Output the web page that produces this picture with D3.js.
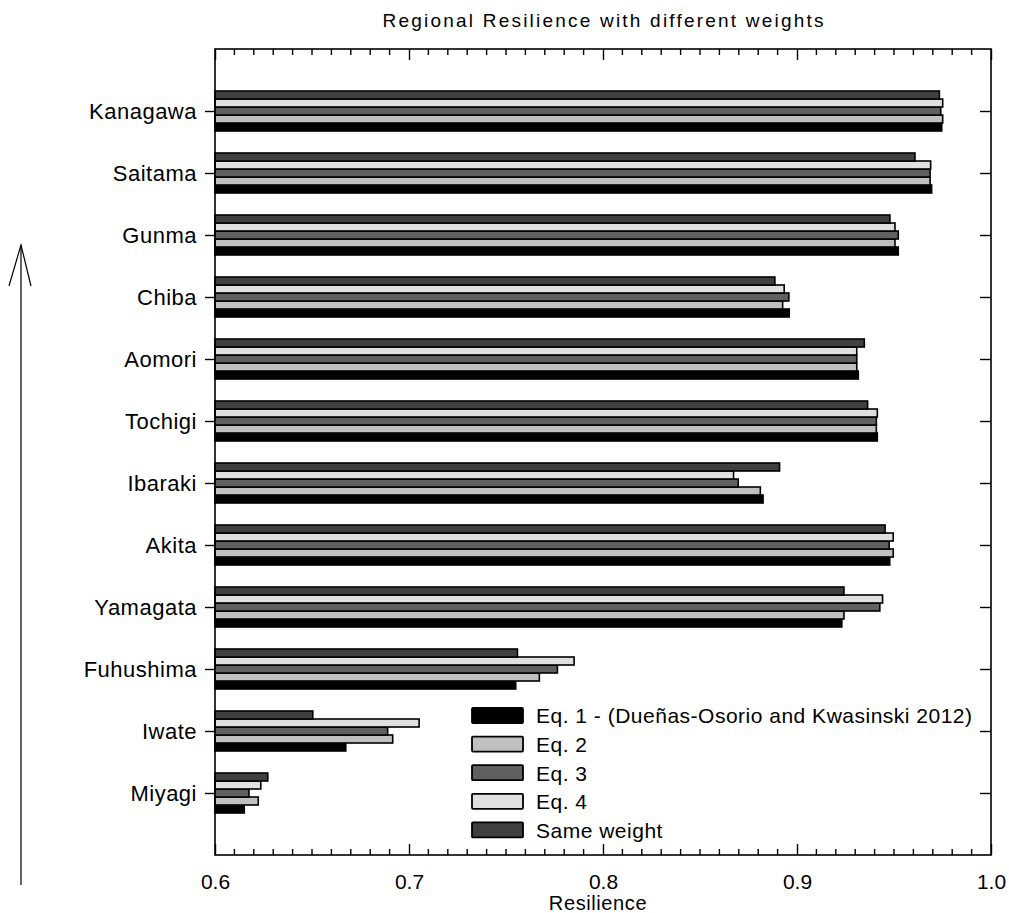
<!DOCTYPE html>
<html><head><meta charset="utf-8">
<script src="https://cdn.jsdelivr.net/npm/d3@7"></script>
<style>body{margin:0;background:#fff}svg{display:block}</style>
</head><body>
<script>
const categories = ["Kanagawa","Saitama","Gunma","Chiba","Aomori","Tochigi","Ibaraki","Akita","Yamagata","Fuhushima","Iwate","Miyagi"];
const seriesNames = ["Eq. 1 - (Dueñas-Osorio and Kwasinski 2012)","Eq. 2","Eq. 3","Eq. 4","Same weight"];
const eq1 = [0.9746,0.9694,0.9522,0.8960,0.9316,0.9414,0.8825,0.9478,0.9231,0.7550,0.6674,0.6151];
const eq2 = [0.9751,0.9686,0.9505,0.8926,0.9308,0.9409,0.8811,0.9496,0.9242,0.7672,0.6916,0.6223];
const eq3 = [0.9741,0.9686,0.9522,0.8958,0.9308,0.9409,0.8697,0.9475,0.9427,0.7765,0.6890,0.6175];
const eq4 = [0.9751,0.9689,0.9505,0.8934,0.9308,0.9414,0.8673,0.9496,0.9441,0.7851,0.7052,0.6236];
const sameWeight = [0.9734,0.9608,0.9479,0.8886,0.9347,0.9364,0.8910,0.9454,0.9242,0.7559,0.6504,0.6272];
const xTicks = [0.6,0.7,0.8,0.9,1.0];
const fills = ["#000000","#c0c0c0","#606060","#e0e0e0","#404040"];
const seriesValues = [eq1,eq2,eq3,eq4,sameWeight];

const W = 1009, H = 913;
const L = 215, R = 991, T = 49, B = 855;
const font = "'Liberation Sans', Arial, sans-serif";

const svg = d3.select("body").append("svg").attr("width", W).attr("height", H)
  .style("font-family", font);

const x = d3.scaleLinear().domain([0.6, 1.0]).range([L, R]);
const y = d3.scalePoint().domain(categories).range([T, B]).padding(1);
const sub = d3.scaleBand().domain([4,3,2,1,0]).range([-20, 20]);

// bars
const g = svg.append("g");
seriesValues.forEach((vals, si) => {
  g.selectAll(null).data(vals).enter().append("rect")
    .attr("x", x(0.6))
    .attr("y", (d, i) => y(categories[i]) + sub(si))
    .attr("width", d => x(d) - x(0.6))
    .attr("height", sub.bandwidth())
    .attr("fill", fills[si])
    .attr("stroke", "#000")
    .attr("stroke-width", 1.6);
});

// frame
svg.append("rect").attr("x", L).attr("y", T).attr("width", R - L).attr("height", B - T)
  .attr("fill", "none").attr("stroke", "#000").attr("stroke-width", 1.6);

const minor = d3.range(61, 100).map(d => d / 100).filter(d => Math.abs(d*10 - Math.round(d*10)) > 1e-6);

// bottom axis (inward ticks)
const axB = svg.append("g").attr("transform", `translate(0,${B})`)
  .call(d3.axisBottom(x).tickValues(xTicks).tickFormat(d3.format(".1f")).tickSizeInner(-11).tickSizeOuter(0).tickPadding(19));
axB.select(".domain").remove();
axB.selectAll("line").attr("stroke-width", 1.4);
axB.selectAll("text").attr("font-size", 21).attr("fill", "#000").attr("font-family", font);
svg.append("g").attr("transform", `translate(0,${B})`)
  .selectAll("line").data(minor).enter().append("line")
  .attr("x1", d => x(d)).attr("x2", d => x(d)).attr("y1", 0).attr("y2", -6)
  .attr("stroke", "#000").attr("stroke-width", 1.4);

// top axis (inward ticks, no labels)
const axT = svg.append("g").attr("transform", `translate(0,${T})`)
  .call(d3.axisTop(x).tickValues(xTicks).tickFormat("").tickSizeInner(-11).tickSizeOuter(0));
axT.select(".domain").remove();
axT.selectAll("line").attr("stroke-width", 1.4);
svg.append("g").attr("transform", `translate(0,${T})`)
  .selectAll("line").data(minor).enter().append("line")
  .attr("x1", d => x(d)).attr("x2", d => x(d)).attr("y1", 0).attr("y2", 6)
  .attr("stroke", "#000").attr("stroke-width", 1.4);

// left axis
const axL = svg.append("g").attr("transform", `translate(${L},0)`)
  .call(d3.axisLeft(y).tickSizeInner(10).tickSizeOuter(0).tickPadding(8));
axL.select(".domain").remove();
axL.selectAll("line").attr("stroke-width", 1.4);
axL.selectAll("text").attr("font-size", 22).attr("letter-spacing", 0.5).attr("fill", "#000").attr("font-family", font);

// right axis (inward ticks)
const axR = svg.append("g").attr("transform", `translate(${R},0)`)
  .call(d3.axisRight(y).tickSizeInner(-11).tickSizeOuter(0).tickFormat(""));
axR.select(".domain").remove();
axR.selectAll("line").attr("stroke-width", 1.4);

// title
svg.append("text").attr("x", (L + R) / 2).attr("y", 27).attr("text-anchor", "middle")
  .attr("font-size", 19).attr("textLength", 441).attr("lengthAdjust", "spacing")
  .text("Regional Resilience with different weights");

// x label
svg.append("text").attr("x", 598).attr("y", 910).attr("text-anchor", "middle")
  .attr("font-size", 20).attr("letter-spacing", 0.6).text("Resilience");

// legend
const legend = svg.append("g").attr("transform", "translate(472,708)");
seriesNames.forEach((name, i) => {
  const row = legend.append("g").attr("transform", `translate(0,${i * 28.6})`);
  row.append("rect").attr("x", 0).attr("y", 0).attr("width", 51).attr("height", 15)
    .attr("fill", fills[i]).attr("stroke", "#000").attr("stroke-width", 1.8).attr("rx", 1);
  row.append("text").attr("x", 64).attr("y", 8).attr("dy", "0.35em")
    .attr("font-size", 21).attr("letter-spacing", 0.5).text(name);
});

// arrow
const arrow = svg.append("g").attr("stroke", "#000").attr("stroke-width", 1.2).attr("fill", "none");
arrow.append("line").attr("x1", 21).attr("x2", 21).attr("y1", 245).attr("y2", 885);
arrow.append("polyline").attr("points", "9,286 21,245 31,286");
</script>
</body></html>
